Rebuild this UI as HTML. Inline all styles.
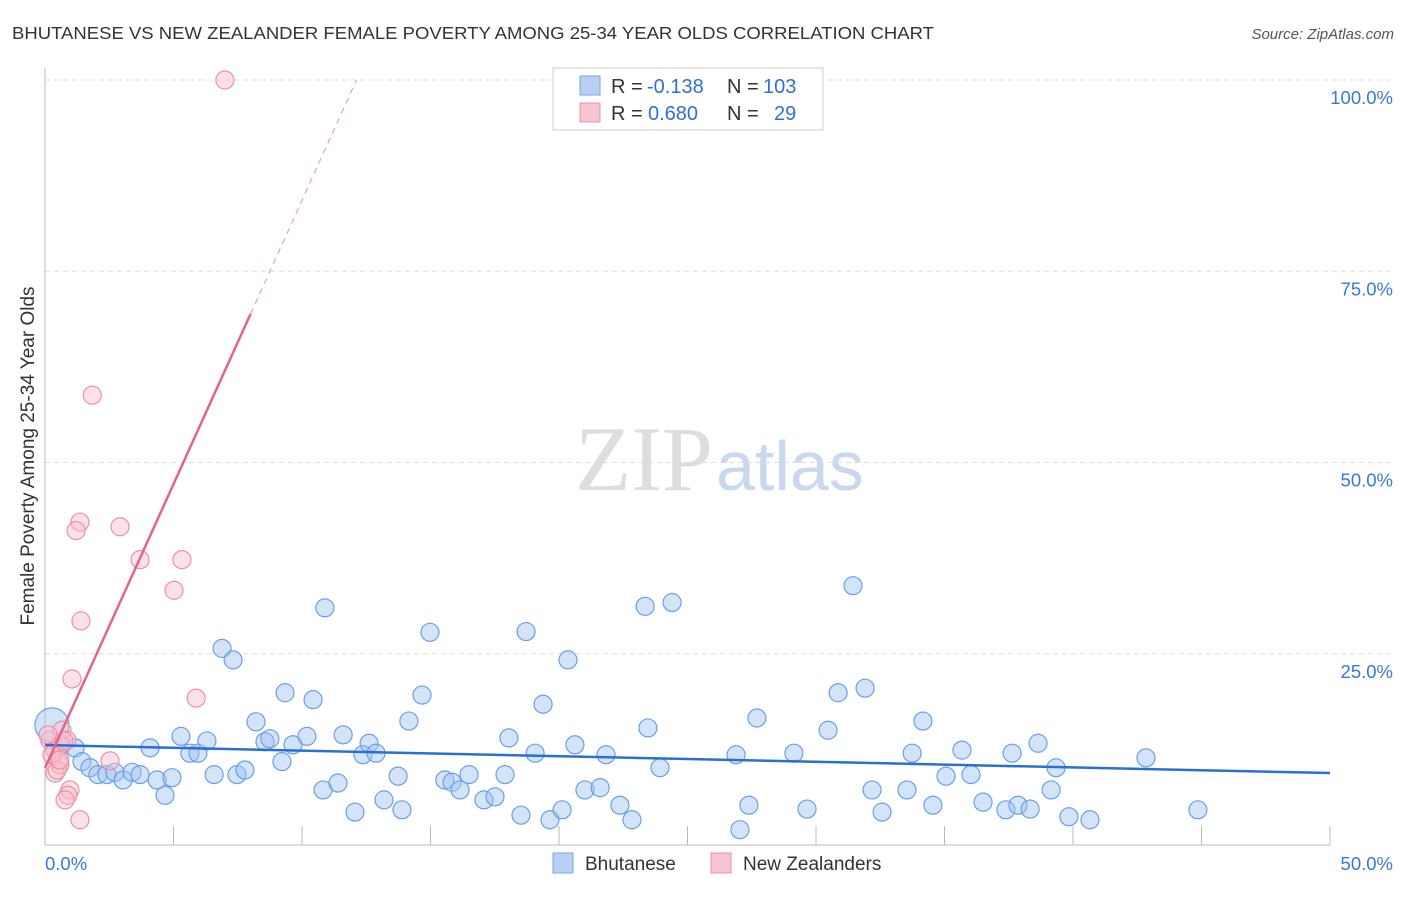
<!DOCTYPE html>
<html><head><meta charset="utf-8"><style>
body{margin:0;background:#fff;font-family:"Liberation Sans",sans-serif;}
svg text{font-family:"Liberation Sans",sans-serif;}
</style></head><body>
<svg width="1406" height="892" id="chart">
<text x="12" y="39" font-size="17.5" fill="#333" textLength="922" lengthAdjust="spacingAndGlyphs">BHUTANESE VS NEW ZEALANDER FEMALE POVERTY AMONG 25-34 YEAR OLDS CORRELATION CHART</text>
<text x="1394" y="39" font-size="15" fill="#555" font-style="italic" text-anchor="end">Source: ZipAtlas.com</text>
<text x="713" y="490" font-size="92" fill="#ddd" text-anchor="end" style="font-family:'Liberation Serif',serif">ZIP</text>
<text x="716" y="490" font-size="70" fill="#c8d8f0">atlas</text>
<g id="grid"></g>
<line x1="45" y1="68" x2="45" y2="845" stroke="#bbb"/>
<line x1="45" y1="845" x2="1330" y2="845" stroke="#bbb"/>
<text x="34" y="456" font-size="19" fill="#333" text-anchor="middle" transform="rotate(-90 34 456)">Female Poverty Among 25-34 Year Olds</text>
<g id="pts"></g>
<g id="lines"></g>
<g>
<rect x="553" y="68" width="270" height="62" fill="#fff" stroke="#ccc"/>
<rect x="580" y="76" width="20" height="19" fill="#b8d0f4" stroke="#7aa4e0"/>
<rect x="580" y="103" width="20" height="19" fill="#f8c4d2" stroke="#e890a8"/>
<text x="611" y="93" font-size="20" fill="#333">R =</text>
<text x="647" y="93" font-size="20" fill="#2f6fd8">-0.138</text>
<text x="727" y="93" font-size="20" fill="#333">N =</text>
<text x="763" y="93" font-size="20" fill="#2f6fd8">103</text>
<text x="611" y="120" font-size="20" fill="#333">R =</text>
<text x="648" y="120" font-size="20" fill="#2f6fd8">0.680</text>
<text x="727" y="120" font-size="20" fill="#333">N =</text>
<text x="774" y="120" font-size="20" fill="#2f6fd8">29</text>
</g>
<g>
<rect x="553" y="853" width="20" height="20" fill="#b8d0f4" stroke="#7aa4e0"/>
<text x="585" y="870" font-size="19" fill="#333">Bhutanese</text>
<rect x="711" y="853" width="20" height="20" fill="#f8c4d2" stroke="#e890a8"/>
<text x="743" y="870" font-size="19" fill="#333">New Zealanders</text>
</g>
</svg>
<script>
const yTicks=[25,50,75,100];
const xTickLabels=["0.0%","50.0%"];
const blueX=[0.27,0.66,1.17,1.44,1.75,2.06,2.41,2.72,3.04,3.39,3.70,4.09,4.36,4.67,4.94,5.29,5.64,5.95,6.30,6.58,6.89,7.32,7.47,7.78,8.21,8.56,8.75,9.22,9.34,9.65,10.19,10.43,10.82,10.89,11.40,11.60,12.06,12.37,12.61,12.88,13.19,13.74,13.89,14.16,14.67,14.98,15.56,15.84,16.15,16.50,17.08,17.51,17.90,18.05,18.52,18.72,19.07,19.38,19.65,20.12,20.35,20.62,21.01,21.60,21.83,22.37,22.84,23.35,23.46,23.93,24.40,26.89,27.04,27.39,27.70,29.14,29.65,30.47,30.86,31.44,31.91,32.18,32.57,33.54,33.74,34.16,34.55,35.06,35.68,36.03,36.50,37.39,37.63,37.86,38.33,38.64,39.15,39.34,39.84,40.66,42.84,44.86];
const blueY=[15.7,13.1,12.7,10.9,10.1,9.2,9.2,9.5,8.5,9.5,9.2,12.7,8.5,6.5,8.8,14.2,12.0,12.0,13.6,9.2,25.7,24.2,9.2,9.8,16.1,13.5,13.9,10.9,19.9,13.1,14.2,19.0,7.2,31.0,8.1,14.4,4.3,11.8,13.3,12.0,5.9,9.0,4.6,16.2,19.6,27.8,8.5,8.2,7.2,9.2,5.9,6.3,9.2,14.0,3.9,27.9,12.0,18.4,3.3,4.6,24.2,13.1,7.2,7.5,11.8,5.2,3.3,31.2,15.3,10.1,31.7,11.8,2.0,5.2,16.6,12.0,4.7,15.0,19.9,33.9,20.5,7.2,4.3,7.2,12.0,16.2,5.2,9.0,12.4,9.2,5.6,4.6,12.0,5.2,4.7,13.3,7.2,10.1,3.7,3.3,11.4,4.6];
const pinkX=[7.00,1.84,1.36,2.92,1.21,3.70,5.33,5.02,1.40,1.05,5.88,2.53,0.19,0.39,0.58,0.66,0.86,0.51,0.39,0.58,0.97,0.89,0.78,1.36,0.12,0.27,0.47,0.74,0.58];
const pinkY=[100,58.8,42.2,41.6,41.1,37.3,37.3,33.3,29.3,21.7,19.2,11.0,13.7,12.4,13.1,15.0,13.7,11.1,9.4,10.5,7.2,6.5,5.9,3.3,14.4,11.8,9.8,13.6,11.1];
const blueFit=[13.07,-0.0732];
const pinkFit=[10.07,7.42];
const X=v=>45+v*25.7, Y=v=>845-v*7.65;
const NS="http://www.w3.org/2000/svg";
function mk(t,a,p){const e=document.createElementNS(NS,t);for(const k in a)e.setAttribute(k,a[k]);p.appendChild(e);return e;}
const grid=document.getElementById('grid');
yTicks.forEach(t=>{
 const l=mk('line',{x1:45,x2:1395,y1:Y(t),y2:Y(t),stroke:'#ddd','stroke-dasharray':'5,4'},grid);
 
 
 const tx=mk('text',{x:1393,y:Y(t)+24,'font-size':18.5,fill:'#3a78d8','text-anchor':'end'},grid);
 tx.textContent=t.toFixed(1)+'%';
 
 
});
for(let i=1;i<=10;i++){
 const l=mk('line',{x1:45+i*128.5,x2:45+i*128.5,y1:826,y2:845,stroke:'#bbb'},grid);
 
 
}
xTickLabels.forEach((s,i)=>{
 const tx=mk('text',{x:i?1393:45,y:870,'font-size':18.5,fill:'#3a78d8','text-anchor':i?'end':'start'},grid);
 tx.textContent=s;
 
 
});
const pts=document.getElementById('pts');
blueX.forEach((x,i)=>{
 const c=mk('circle',{cx:X(x),cy:Y(blueY[i]),r:i==0?17:9,fill:'rgba(160,195,240,0.45)',stroke:'#6a9fe6','stroke-width':1.2},pts);
 
 
});
pinkX.forEach((x,i)=>{
 const c=mk('circle',{cx:X(x),cy:Y(pinkY[i]),r:9,fill:'rgba(248,190,205,0.45)',stroke:'#ec8fa8','stroke-width':1.2},pts);
 
 
});
const lines=document.getElementById('lines');
const bl=mk('line',{x1:X(0),y1:Y(blueFit[0]),x2:X(50),y2:Y(blueFit[0]+50*blueFit[1]),stroke:'#2a6fd6','stroke-width':2.5},lines);


const xs=8.0, xe=(100-pinkFit[0])/pinkFit[1];
const pl=mk('line',{x1:X(0),y1:Y(pinkFit[0]),x2:X(xs),y2:Y(pinkFit[0]+xs*pinkFit[1]),stroke:'#e4638e','stroke-width':2.5},lines);


const pd=mk('line',{x1:X(xs),y1:Y(pinkFit[0]+xs*pinkFit[1]),x2:X(xe),y2:Y(100),stroke:'#eaa0b8','stroke-width':1.2,'stroke-dasharray':'6,5'},lines);


</script>
</body></html>
